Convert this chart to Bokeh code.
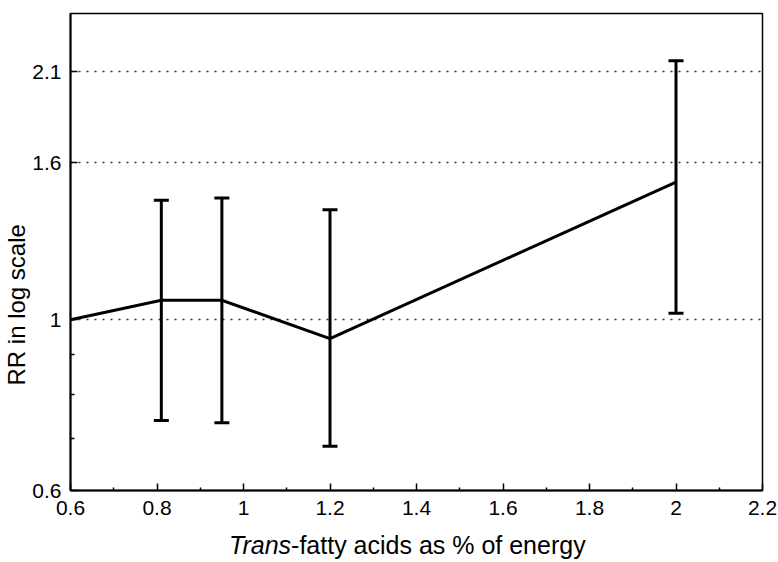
from bokeh.plotting import figure
from bokeh.layouts import column
from bokeh.models import (ColumnDataSource, Whisker, TeeHead, Range1d, FixedTicker, Title, Div)
from bokeh.embed import file_html
from bokeh.resources import INLINE

# ---- data ----
line_x = [0.6, 0.81, 0.95, 1.2, 2.0]
line_rr = [1.0, 1.06, 1.06, 0.945, 1.51]

err_x = [0.81, 0.95, 1.2, 2.0]
err_lower = [0.74, 0.735, 0.685, 1.02]
err_upper = [1.43, 1.44, 1.39, 2.17]

x_ticks = [0.6, 0.8, 1.0, 1.2, 1.4, 1.6, 1.8, 2.0, 2.2]
x_minor = [0.7, 0.9, 1.1, 1.3, 1.5, 1.7, 1.9, 2.1]
y_ticks = [0.6, 1.0, 1.6, 2.1]
y_tick_labels = ["0.6", "1", "1.6", "2.1"]
y_minor = [0.7, 0.8, 0.9]
grid_vals = [1.0, 1.6, 2.1]

x_title_italic = "Trans"
x_title_rest = "-fatty acids as % of energy"
y_title = "RR in log scale"

FONT = "Liberation Sans"

p = figure(width=778, height=525, y_axis_type="log",
           x_range=Range1d(0.6, 2.2), y_range=Range1d(0.6, 2.5),
           output_backend="svg", toolbar_location=None,
           min_border_left=70, min_border_right=16,
           min_border_top=13, min_border_bottom=35)
p.background_fill_color = "white"
p.border_fill_color = "white"
p.outline_line_color = "black"
p.outline_line_width = 1.5
p.outline_line_alpha = 1.0

# grids
p.xgrid.visible = False
p.ygrid.ticker = FixedTicker(ticks=grid_vals)
p.ygrid.grid_line_color = "#333333"
p.ygrid.grid_line_dash = "2 6"
p.ygrid.grid_line_width = 1.3
p.ygrid.minor_grid_line_color = None

# x axis
xa = p.xaxis[0]
xa.ticker = FixedTicker(ticks=x_ticks, minor_ticks=x_minor)
xa.major_label_overrides = {v: (f"{v:g}") for v in x_ticks}
xa.axis_line_width = 2
xa.major_tick_in = 7
xa.major_tick_out = 0
xa.minor_tick_in = 3
xa.minor_tick_out = 0
xa.major_tick_line_width = 1.5
xa.minor_tick_line_width = 1.5
xa.major_label_standoff = 10
xa.major_label_text_font = FONT
xa.major_label_text_font_size = "21px"
xa.major_label_text_color = "black"

# y axis
ya = p.yaxis[0]
ya.ticker = FixedTicker(ticks=y_ticks, minor_ticks=y_minor)
ya.major_label_overrides = {v: s for v, s in zip(y_ticks, y_tick_labels)}
ya.axis_line_width = 2
ya.major_tick_in = 7
ya.major_tick_out = 0
ya.minor_tick_in = 4
ya.minor_tick_out = 0
ya.major_tick_line_width = 1.5
ya.minor_tick_line_width = 1.5
ya.major_label_standoff = 9
ya.major_label_text_font = FONT
ya.major_label_text_font_size = "21px"
ya.major_label_text_color = "black"

# y title (left panel)
p.add_layout(Title(text=y_title, align="left", offset=105, standoff=0,
                   text_font=FONT, text_font_size="24px", text_font_style="normal",
                   text_color="black"), "left")

# data line
p.line(line_x, line_rr, line_width=3, line_color="black", line_join="miter")

# error bars
src = ColumnDataSource(dict(x=err_x, lower=err_lower, upper=err_upper))
w = Whisker(base="x", lower="lower", upper="upper", source=src, dimension="height",
            line_width=3, line_color="black",
            upper_head=TeeHead(size=15, line_width=3, line_color="black"),
            lower_head=TeeHead(size=15, line_width=3, line_color="black"))
p.add_layout(w)

# x title (mixed italic / roman) as real HTML text below the figure
div = Div(width=778, height=37, margin=0,
          text=('<div style="margin:0;padding:8px 0 0 229px;font-family:\'Liberation Sans\';'
                'font-size:25px;line-height:24px;color:black;white-space:nowrap">'
                f'<i>{x_title_italic}</i>{x_title_rest}</div>'))

layout = column(p, div, spacing=0)
open("out.html", "w").write(file_html(layout, INLINE))
